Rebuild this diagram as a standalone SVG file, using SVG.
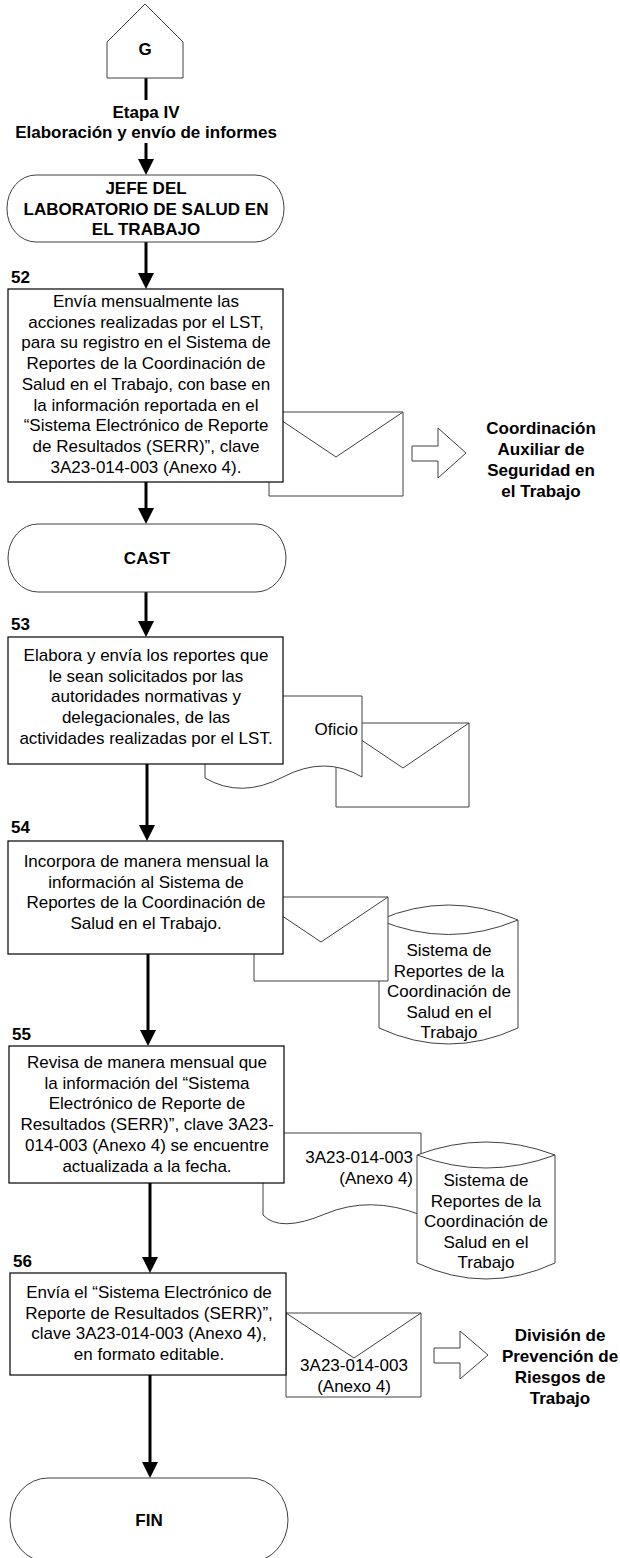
<svg xmlns="http://www.w3.org/2000/svg" width="620" height="1558" viewBox="0 0 620 1558">
<style>
text{font-family:"Liberation Sans",Arial,sans-serif;font-size:17px;fill:#000}
.b{font-weight:bold}
.c{text-anchor:middle}
.r{text-anchor:end}
.box{fill:#fff;stroke:#000;stroke-width:1.2}
.shape{fill:#fff;stroke:#404040;stroke-width:1}
.term{fill:#fff;stroke:#404040;stroke-width:1}
.conn{fill:none;stroke:#000;stroke-width:3}
.hollow{fill:#fff;stroke:#404040;stroke-width:1}
</style>
<defs>
<marker id="ah" markerUnits="userSpaceOnUse" markerWidth="16" markerHeight="16" refX="0" refY="8" orient="auto" overflow="visible">
<path d="M0,0 L16,8 L0,16 Z" fill="#000"/>
</marker>
</defs>
<rect width="620" height="1558" fill="#fff"/>

<g id="connectors">
<line class="conn" x1="146" y1="78" x2="146" y2="100"/>
<line class="conn" x1="146" y1="143" x2="146" y2="159" marker-end="url(#ah)"/>
<line class="conn" x1="146" y1="242" x2="146" y2="273" marker-end="url(#ah)"/>
<line class="conn" x1="146" y1="482" x2="146" y2="508" marker-end="url(#ah)"/>
<line class="conn" x1="146" y1="592" x2="146" y2="621" marker-end="url(#ah)"/>
<line class="conn" x1="147" y1="764" x2="147" y2="825" marker-end="url(#ah)"/>
<line class="conn" x1="148" y1="954" x2="148" y2="1030" marker-end="url(#ah)"/>
<line class="conn" x1="150" y1="1183" x2="150" y2="1257" marker-end="url(#ah)"/>
<line class="conn" x1="150" y1="1375" x2="150" y2="1462" marker-end="url(#ah)"/>
</g>

<g id="G">
<polygon class="shape" points="145,4 183,42 183,78 107,78 107,42"/>
<text class="b c" x="145" y="55">G</text>
</g>

<g id="etapa">
<text class="b c" x="146" y="118">Etapa IV</text>
<text class="b c" x="146" y="138">Elaboración y envío de informes</text>
</g>

<g id="jefe">
<rect class="term" x="7" y="175" width="277" height="67" rx="29" ry="33"/>
<text class="b c" x="146" y="194">JEFE DEL</text>
<text class="b c" x="146" y="214.5">LABORATORIO DE SALUD EN</text>
<text class="b c" x="146" y="235">EL TRABAJO</text>
</g>

<g id="step52">
<path class="shape" d="M269,412 H403 V496 H269 Z M269,412 L336,457 L403,412"/>
<rect class="box" x="8" y="289" width="275" height="193"/>
<text class="b" x="11" y="283">52</text>
<text class="c" x="146" y="307">Envía mensualmente las</text>
<text class="c" x="146" y="327.7">acciones realizadas por el LST,</text>
<text class="c" x="146" y="348.4">para su registro en el Sistema de</text>
<text class="c" x="146" y="369.1">Reportes de la Coordinación de</text>
<text class="c" x="146" y="389.8">Salud en el Trabajo, con base en</text>
<text class="c" x="146" y="410.5">la información reportada en el</text>
<text class="c" x="146" y="431.2">“Sistema Electrónico de Reporte</text>
<text class="c" x="146" y="451.9">de Resultados (SERR)”, clave</text>
<text class="c" x="146" y="472.6">3A23-014-003 (Anexo 4).</text>
<polygon class="hollow" points="412,446 438,446 438,428 466,453 438,478 438,461 412,461"/>
<text class="b c" x="541" y="434">Coordinación</text>
<text class="b c" x="541" y="455">Auxiliar de</text>
<text class="b c" x="541" y="476">Seguridad en</text>
<text class="b c" x="541" y="497">el Trabajo</text>
</g>

<g id="cast">
<rect class="term" x="8" y="524" width="278" height="68" rx="30" ry="34"/>
<text class="b c" x="147" y="564">CAST</text>
</g>

<g id="step53">
<path class="shape" d="M336,723 H469 V807 H336 Z M336,723 L403,768 L469,723"/>
<path class="shape" d="M205,696 H362 V777 Q325,755 283,777 T205,778 Z"/>
<text x="358" y="735" class="r">Oficio</text>
<rect class="box" x="8" y="637" width="275" height="127"/>
<text class="b" x="11" y="630">53</text>
<text class="c" x="146" y="661">Elabora y envía los reportes que</text>
<text class="c" x="146" y="681.7">le sean solicitados por las</text>
<text class="c" x="146" y="702.4">autoridades normativas y</text>
<text class="c" x="146" y="723.1">delegacionales, de las</text>
<text class="c" x="146" y="743.8">actividades realizadas por el LST.</text>
</g>

<g id="step54">
<path class="shape" d="M379,920 Q448.5,890 518,920 V1028 Q448.5,1060 379,1028 Z"/>
<path class="shape" d="M379,920 Q448.5,949 518,920" fill="none"/>
<path class="shape" d="M254,897 H388 V981 H254 Z M254,897 L321,942 L388,897"/>
<rect class="box" x="8" y="841" width="275" height="113"/>
<text class="b" x="11" y="833">54</text>
<text class="c" x="146" y="867">Incorpora de manera mensual la</text>
<text class="c" x="146" y="887.7">información al Sistema de</text>
<text class="c" x="146" y="908.4">Reportes de la Coordinación de</text>
<text class="c" x="146" y="929.1">Salud en el Trabajo.</text>
<text class="c" x="449" y="956">Sistema de</text>
<text class="c" x="449" y="976.5">Reportes de la</text>
<text class="c" x="449" y="997">Coordinación de</text>
<text class="c" x="449" y="1017.5">Salud en el</text>
<text class="c" x="449" y="1038">Trabajo</text>
</g>

<g id="step55">
<path class="shape" d="M263,1133 H421 V1215 Q370,1195 325,1214 T263,1215 Z"/>
<path class="shape" d="M417,1155 Q486,1129 555,1155 V1263 Q486,1295 417,1263 Z"/>
<path class="shape" d="M417,1155 Q486,1181 555,1155" fill="none"/>
<rect class="box" x="9" y="1046" width="275" height="137"/>
<text class="b" x="12" y="1040">55</text>
<text class="c" x="147" y="1068">Revisa de manera mensual que</text>
<text class="c" x="147" y="1088.7">la información del “Sistema</text>
<text class="c" x="147" y="1109.4">Electrónico de Reporte de</text>
<text class="c" x="147" y="1130.1">Resultados (SERR)”, clave 3A23-</text>
<text class="c" x="147" y="1150.8">014-003 (Anexo 4) se encuentre</text>
<text class="c" x="147" y="1171.5">actualizada a la fecha.</text>
<text class="r" x="413" y="1163">3A23-014-003</text>
<text class="r" x="413" y="1184">(Anexo 4)</text>
<text class="c" x="486" y="1186">Sistema de</text>
<text class="c" x="486" y="1206.5">Reportes de la</text>
<text class="c" x="486" y="1227">Coordinación de</text>
<text class="c" x="486" y="1247.5">Salud en el</text>
<text class="c" x="486" y="1268">Trabajo</text>
</g>

<g id="step56">
<path class="shape" d="M286,1313 H421 V1397 H286 Z M286,1313 L354,1358 L421,1313"/>
<rect class="box" x="10" y="1273" width="276" height="102"/>
<text class="b" x="13" y="1267">56</text>
<text class="c" x="149" y="1298">Envía el “Sistema Electrónico de</text>
<text class="c" x="149" y="1318.7">Reporte de Resultados (SERR)”,</text>
<text class="c" x="149" y="1339.4">clave 3A23-014-003 (Anexo 4),</text>
<text class="c" x="149" y="1360.1">en formato editable.</text>
<text class="c" x="354" y="1371">3A23-014-003</text>
<text class="c" x="354" y="1392">(Anexo 4)</text>
<polygon class="hollow" points="434,1348 460,1348 460,1331 488,1355 460,1379 460,1363 434,1363"/>
<text class="b c" x="560" y="1341">División de</text>
<text class="b c" x="560" y="1362">Prevención de</text>
<text class="b c" x="560" y="1383">Riesgos de</text>
<text class="b c" x="560" y="1404">Trabajo</text>
</g>

<g id="fin">
<rect class="term" x="10" y="1478" width="278" height="84" rx="38" ry="42"/>
<text class="b c" x="149" y="1526">FIN</text>
</g>
</svg>
